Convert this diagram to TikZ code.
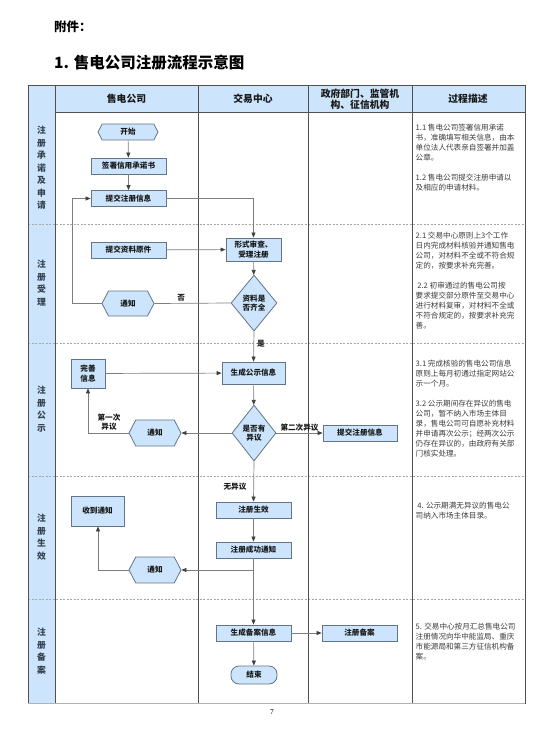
\documentclass[tikz,border=0pt]{standalone}
\usepackage{fontspec}
\setmainfont{Noto Sans CJK SC}
\newfontfamily\seriffont{Liberation Serif}
\usetikzlibrary{arrows.meta,shapes.geometric,shapes.symbols,calc}
\definecolor{lb}{RGB}{204,229,252}
\definecolor{nb}{RGB}{100,116,135}
\definecolor{ln}{RGB}{125,125,125}
\definecolor{tl}{RGB}{80,80,80}
\definecolor{txt}{RGB}{25,25,25}
\definecolor{rowtxt}{RGB}{55,65,80}
\begin{document}
\begin{tikzpicture}[x=1pt,y=-1pt,
  nodefont/.style={font=\fontsize{7.6}{9.5}\selectfont\bfseries, text=txt},
  box/.style={draw=nb, fill=lb, line width=0.8pt, nodefont, inner sep=1pt, align=center},
  hexa/.style={signal, signal to=west and east, signal pointer angle=125, draw=nb, fill=lb, line width=0.8pt, nodefont, inner sep=1pt},
  dia/.style={diamond, draw=nb, fill=lb, line width=0.8pt, nodefont, inner sep=0pt, align=center},
  stadium/.style={rounded corners=8pt, draw=nb, fill=lb, line width=0.8pt, nodefont, inner sep=1pt},
  conn/.style={draw=ln, line width=0.7pt, -{Triangle[length=5pt,width=4pt,color=black!75]}},
  plain/.style={draw=ln, line width=0.7pt},
  lab/.style={nodefont, inner sep=0pt, align=center},
  head/.style={font=\fontsize{9.8}{11.5}\selectfont\bfseries, text=txt, align=center, inner sep=0pt},
  rowlab/.style={font=\fontsize{8.8}{12.5}\selectfont\bfseries, text=rowtxt, align=center, inner sep=0pt},
  desc/.style={font=\fontsize{7.6}{10}\selectfont, text=txt!85, align=left, anchor=north west, inner sep=0pt},
  grid/.style={draw=tl, line width=0.8pt},
  rowdiv/.style={draw=gray!70, line width=0.6pt, dash pattern=on 2pt off 1.5pt}
]
\useasboundingbox (0,0) rectangle (541,731);
% titles
\node[anchor=west, font=\fontsize{12.5}{14}\selectfont\bfseries, inner sep=0pt] (t1) at (54,27) {附件：};
\node[anchor=west, font=\fontsize{15.5}{17}\selectfont\bfseries, inner sep=0pt] (t2) at (54,63) {1. 售电公司注册流程示意图};
% table background
\fill[lb] (55,85) rectangle (525,112);
\fill[lb] (28,85) rectangle (55,703);
% row dividers
\foreach \yy in {224,343,476,599} {\draw[rowdiv] (28,\yy) -- (525,\yy);}
% grid
\draw[grid] (55,112) -- (525,112);
\foreach \xx in {198,308,412} {\draw[grid] (\xx,85) -- (\xx,703);}
\draw[grid] (55,85) -- (55,703);
\draw[draw=tl, line width=1pt] (28,85) rectangle (525,703);
\draw[draw=gray!60, line width=1.2pt] (28,703.5) -- (525,703.5);
% headers
\node[head] (h1) at (126.5,99) {售电公司};
\node[head] (h2) at (253,99) {交易中心};
\node[head] (h3) at (360,99) {政府部门、监管机\\构、征信机构};
\node[head] (h4) at (468,99) {过程描述};
% row labels
\node[rowlab] (r1) at (41.5,168) {注\\册\\承\\诺\\及\\申\\请};
\node[rowlab] (r2) at (41.5,283) {注\\册\\受\\理};
\node[rowlab] (r3) at (41.5,409) {注\\册\\公\\示};
\node[rowlab] (r4) at (41.5,537) {注\\册\\生\\效};
\node[rowlab] (r5) at (41.5,651) {注\\册\\备\\案};
% nodes
\node[hexa, minimum width=60pt, minimum height=16pt] (start) at (128,132) {开始};
\node[box, minimum width=75pt, minimum height=16pt] (sign) at (128.5,166) {签署信用承诺书};
\node[box, minimum width=75pt, minimum height=16pt] (submit) at (128.5,198.5) {提交注册信息};
\node[box, minimum width=75pt, minimum height=16pt] (orig) at (128.5,250) {提交资料原件};
\node[box, minimum width=55pt, minimum height=23pt] (review) at (253.5,249.5) {形式审查、\\受理注册};
\node[dia, minimum width=46pt, minimum height=56pt] (check) at (254,303) {资料是\\否齐全};
\node[hexa, minimum width=52pt, minimum height=25pt] (notice1) at (128,303.5) {通知};
\node[box, minimum width=63pt, minimum height=22pt] (pub) at (253.5,373) {生成公示信息};
\node[box, minimum width=34pt, minimum height=29pt] (perfect) at (88,373.5) {完善\\信息};
\node[dia, minimum width=44pt, minimum height=56pt] (obj) at (254,433) {是否有\\异议};
\node[hexa, minimum width=52pt, minimum height=26pt] (notice2) at (155,433) {通知};
\node[box, minimum width=74pt, minimum height=16pt] (resub) at (360,433) {提交注册信息};
\node[box, minimum width=75pt, minimum height=16pt] (effect) at (253.5,510) {注册生效};
\node[box, minimum width=75pt, minimum height=16pt] (success) at (253.5,550) {注册成功通知};
\node[box, minimum width=53pt, minimum height=30pt] (receive) at (97.5,511) {收到通知};
\node[hexa, minimum width=52pt, minimum height=26pt] (notice3) at (155,570) {通知};
\node[box, minimum width=75pt, minimum height=16pt] (gen) at (253.5,633) {生成备案信息};
\node[box, minimum width=75pt, minimum height=16pt] (record) at (359.5,633) {注册备案};
\node[stadium, minimum width=46pt, minimum height=18pt] (finish) at (254,675) {结束};
% coordinates
\coordinate (c1) at (72,303.5);
\coordinate (c2) at (88,433);
\coordinate (c3) at (253.5,570);
\coordinate (c4) at (98,570);
% connectors
\draw[conn] (start) -- (sign);
\draw[conn] (sign) -- (submit);
\draw[conn] (submit.east) -| (review.north);
\draw[conn] (orig) -- (review);
\draw[conn] (review) -- (check);
\draw[plain] (check.west) -- node[lab, above=2pt, pos=0.65] (lno) {否} (notice1.east);
\draw[conn] (notice1.west) -- (c1) |- (submit.west);
\draw[conn] (check.south) -- node[lab, right=3pt, pos=0.4] (lyes) {是} (pub.north);
\draw[conn] (perfect) -- (pub);
\draw[conn] (pub) -- (obj);
\draw[conn] (obj.west) -- (notice2.east);
\draw[conn] (notice2.west) -- (c2) -- (perfect.south);
\node[lab] (lfirst) at (109,422) {第一次\\异议};
\draw[conn] (obj.east) -- node[lab, above=1.5pt] (lsecond) {第二次异议} (resub.west);
\draw[conn] (obj.south) -- (effect.north);
\node[lab] (lnone) at (235,487) {无异议};
\draw[conn] (effect) -- (success);
\draw[conn] (success) -- (gen);
\draw[conn] (c3) -- (notice3.east);
\draw[conn] (notice3.west) -- (c4) -- (c4 |- receive.south);
\draw[conn] (gen) -- (finish);
\draw[conn] (gen) -- (record);
% descriptions
\node[desc] (d1) at (415.5,124) {1.1 售电公司签署信用承诺\\书，准确填写相关信息，由本\\单位法人代表亲自签署并加盖\\公章。\\[10pt]1.2 售电公司提交注册申请以\\及相应的申请材料。};
\node[desc] (d2) at (415.5,232) {2.1 交易中心原则上3个工作\\日内完成材料核验并通知售电\\公司，对材料不全或不符合规\\定的，按要求补充完善。\\[10pt]\ 2.2 初审通过的售电公司按\\要求提交部分原件至交易中心\\进行材料复审，对材料不全或\\不符合规定的，按要求补充完\\善。};
\node[desc] (d3) at (415.5,360) {3.1 完成核验的售电公司信息\\原则上每月初通过指定网站公\\示一个月。\\[10pt]3.2 公示期间存在异议的售电\\公司，暂不纳入市场主体目\\录，售电公司可自愿补充材料\\并申请再次公示；经两次公示\\仍存在异议的，由政府有关部\\门核实处理。};
\node[desc] (d4) at (415.5,502) {\ 4. 公示期满无异议的售电公\\司纳入市场主体目录。};
\node[desc] (d5) at (415.5,623) {5. 交易中心按月汇总售电公司\\注册情况向华中能监局、重庆\\市能源局和第三方征信机构备\\案。};
% page number
\node[font=\seriffont\fontsize{7.5}{9}\selectfont, inner sep=0pt] (pg) at (272,712) {7};
\end{tikzpicture}
\end{document}
